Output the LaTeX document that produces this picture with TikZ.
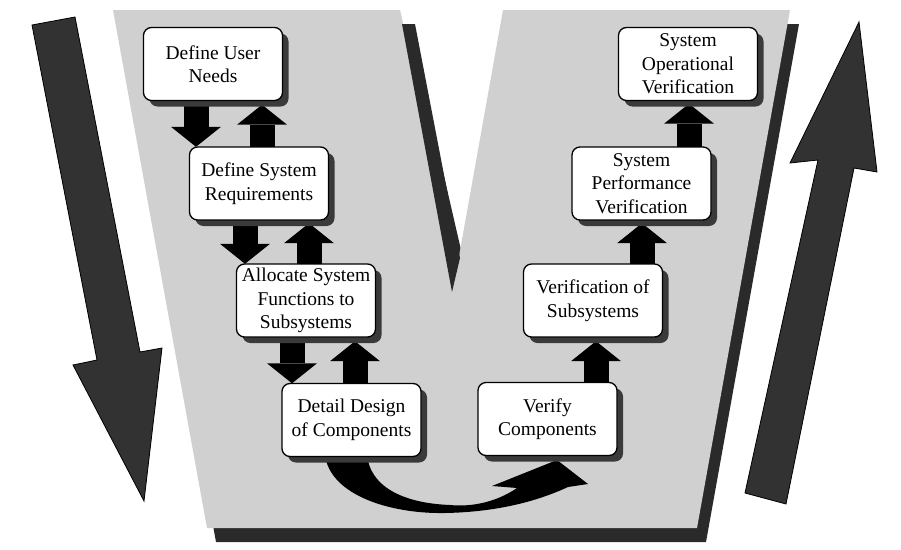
\documentclass[tikz,border=0pt]{standalone}
\usepackage{fontspec}
\setmainfont{Liberation Serif}
\usetikzlibrary{arrows.meta,shadows}
\definecolor{vgray}{RGB}{208,208,208}
\definecolor{vshade}{RGB}{42,42,42}
\definecolor{bigarrow}{RGB}{50,50,50}
\definecolor{boxshade}{RGB}{58,58,58}
\begin{document}
\begin{tikzpicture}[x=1pt,y=-1pt,
  stage/.style={draw=black, line width=1.3pt, fill=white, rounded corners=8pt,
    minimum width=139pt, minimum height=73pt, inner sep=0pt, align=center,
    font=\fontsize{19.5}{23.5}\selectfont,
    drop shadow={shadow xshift=6pt, shadow yshift=-6pt, fill=boxshade, opacity=1}},
  flow/.style={draw=black, line width=25pt,
    -{Triangle[width=50pt,length=20pt,line width=0pt]}},
  bigarrowstyle/.style={fill=bigarrow, draw=black, line width=0.8pt, line join=miter}
]
\useasboundingbox (0,0) rectangle (901,549);

% the V band and its shadow
\fill[vshade, shift={(9,14)}] (113,10) -- (400,10) -- (458,262) -- (503,10)
  -- (790,10) -- (697,528) -- (207,528) -- cycle;
\fill[vgray] (113,10) -- (400,10) -- (458,262) -- (503,10)
  -- (790,10) -- (697,528) -- (207,528) -- cycle;
\fill[vshade] (402,24) -- (415,24) -- (460,258) -- (452,292) -- cycle;

% large side arrows
\filldraw[bigarrowstyle] (32,25) -- (75,17) -- (140,352) -- (162,348)
  -- (144,501) -- (73,365) -- (97,360) -- cycle;
\filldraw[bigarrowstyle] (745,493) -- (818,160) -- (790,163) -- (859,22)
  -- (877,172) -- (854,168) -- (786,504) -- cycle;

% stage box centres
\path (213,64)    coordinate (p1)
      (259,183.5) coordinate (p2)
      (306,300.5) coordinate (p3)
      (351.5,420) coordinate (p4)
      (547.5,419) coordinate (p5)
      (593,300.5) coordinate (p6)
      (641.5,183.5) coordinate (p7)
      (688,64)    coordinate (p8);

% arrow columns
\path (196,0) coordinate (xd1) (262,0) coordinate (xu1)
      (245,0) coordinate (xd2) (309,0) coordinate (xu2)
      (292,0) coordinate (xd3) (355,0) coordinate (xu3)
      (596,0) coordinate (xu4) (642,0) coordinate (xu5)
      (689,0) coordinate (xu6);

% outline frames of the stages, used as anchors before the boxes are drawn
\begin{scope}[every node/.style={minimum width=139pt, minimum height=73pt, inner sep=0pt}]
  \node (a1) at (p1) {}; \node (a2) at (p2) {}; \node (a3) at (p3) {};
  \node (a4) at (p4) {}; \node (a5) at (p5) {}; \node (a6) at (p6) {};
  \node (a7) at (p7) {}; \node (a8) at (p8) {};
\end{scope}
\path (a1.south) ++(0,4) coordinate (a1s)
      (a2.south) ++(0,3) coordinate (a2s)
      (a3.south) ++(0,4) coordinate (a3s)
      (a6.south) ++(0,4) coordinate (a6s)
      (a7.south) ++(0,3) coordinate (a7s)
      (a8.south) ++(0,3) coordinate (a8s);

% flow arrows between stages
\draw[flow] (xd1 |- a1.south) -- (xd1 |- a2.north);
\draw[flow] (xu1 |- a2.north) -- (xu1 |- a1s);
\draw[flow] (xd2 |- a2.south) -- (xd2 |- a3.north);
\draw[flow] (xu2 |- a3.north) -- (xu2 |- a2s);
\draw[flow] (xd3 |- a3.south) -- (xd3 |- a4.north);
\draw[flow] (xu3 |- a4.north) -- (xu3 |- a3s);
\draw[flow] (xu4 |- a5.north) -- (xu4 |- a6s);
\draw[flow] (xu5 |- a6.north) -- (xu5 |- a7s);
\draw[flow] (xu6 |- a7.north) -- (xu6 |- a8s);

% curved arrow across the bottom
\fill[black] (325,455) .. controls (330,495) and (390,514) .. (445,513)
  .. controls (500,512) and (540,500) .. (568,487) -- (588,484) -- (557,460)
  -- (492,486) -- (517,488) .. controls (495,503) and (470,507) .. (450,505)
  .. controls (400,503) and (370,485) .. (367,455) -- cycle;

% stages
\node[stage] (b1) at (p1) {Define User\\Needs};
\node[stage] (b2) at (p2) {Define System\\Requirements};
\node[stage] (b3) at (p3) {Allocate System\\Functions to\\Subsystems};
\node[stage] (b4) at (p4) {Detail Design\\of Components};
\node[stage] (b5) at (p5) {Verify\\Components};
\node[stage] (b6) at (p6) {Verification of\\Subsystems};
\node[stage] (b7) at (p7) {System\\Performance\\Verification};
\node[stage] (b8) at (p8) {System\\Operational\\Verification};
\end{tikzpicture}
\end{document}
